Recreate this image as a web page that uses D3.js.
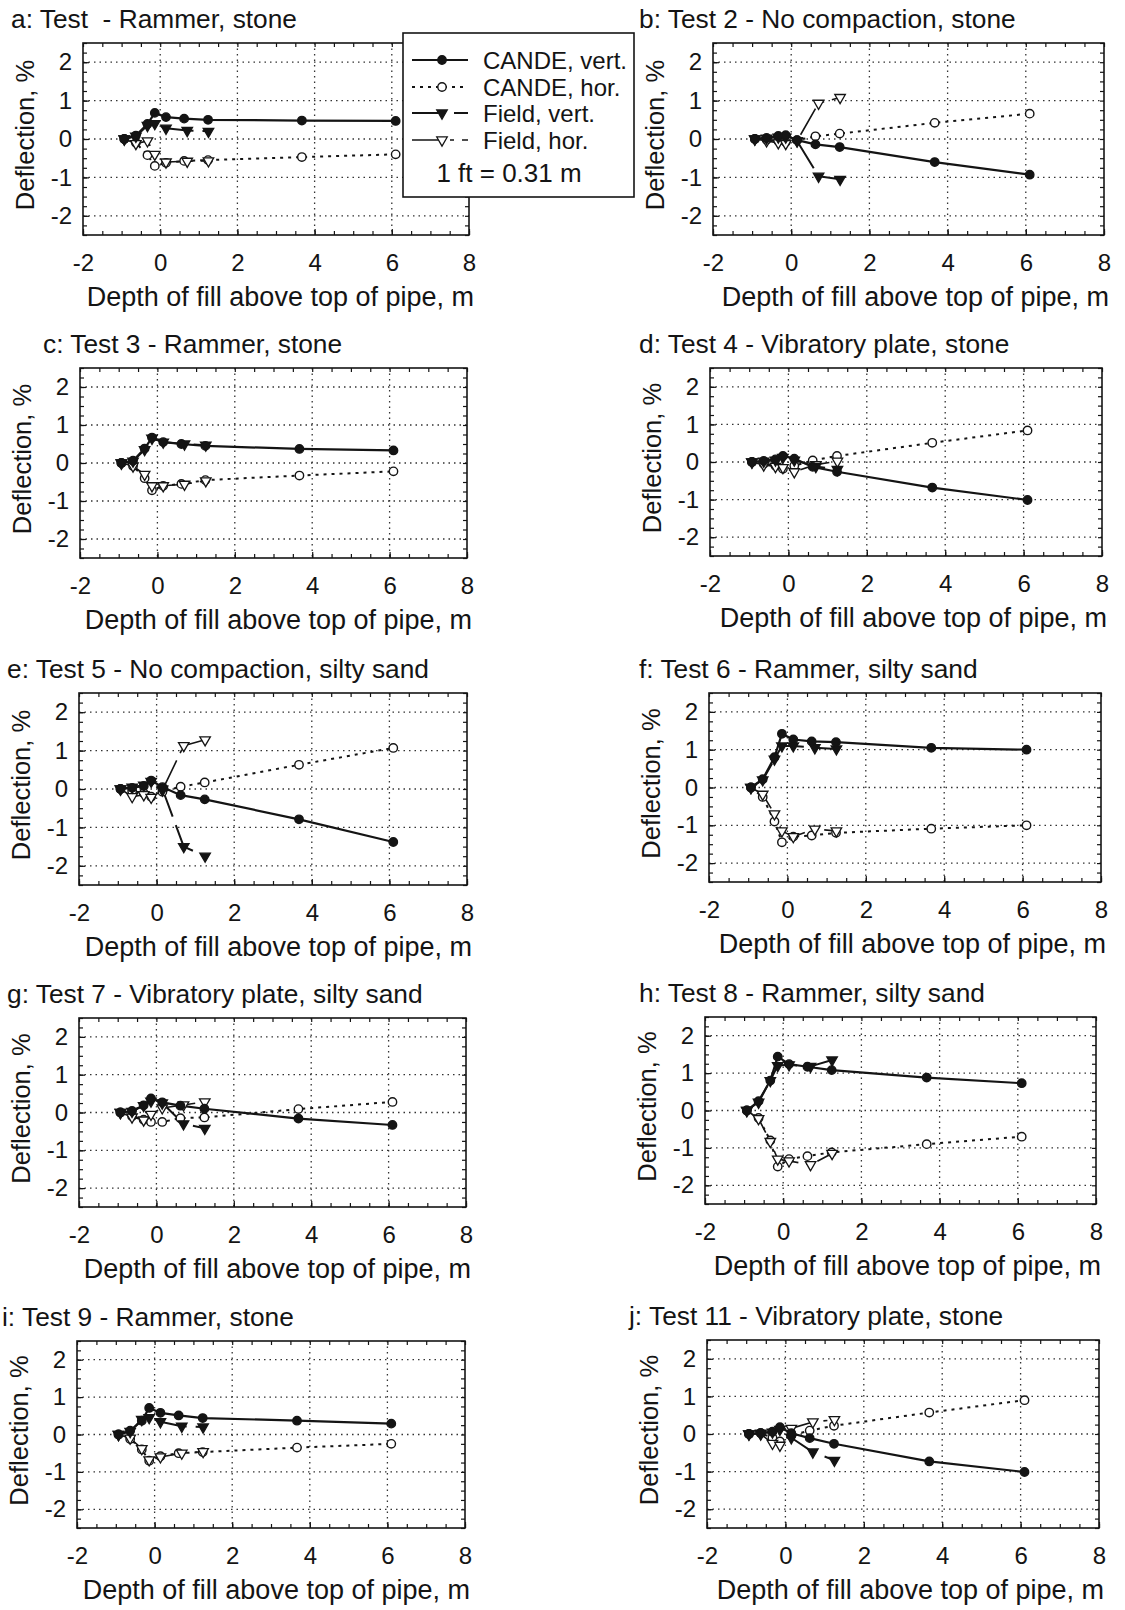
<!DOCTYPE html>
<html><head><meta charset="utf-8">
<script src="https://cdn.jsdelivr.net/npm/d3@7"></script>
<style>
body{margin:0;background:#fff;}
svg{display:block;font-family:"Liberation Sans", Arial, sans-serif;}
</style></head><body>
<svg id="chart" width="1125" height="1610"></svg>
<script>
// ---------------- data ----------------
const depthCande = [-0.93, -0.63, -0.33, -0.14, 0.15, 0.62, 1.24, 3.67, 6.10];
const depthField = [-0.93, -0.63, -0.33, -0.14, 0.15, 0.70, 1.25];
const xTicks = [-2, 0, 2, 4, 6, 8];
const yTicks = [-2, -1, 0, 1, 2];
const panelTitles = [
  "a: Test  - Rammer, stone",
  "b: Test 2 - No compaction, stone",
  "c: Test 3 - Rammer, stone",
  "d: Test 4 - Vibratory plate, stone",
  "e: Test 5 - No compaction, silty sand",
  "f: Test 6 - Rammer, silty sand",
  "g: Test 7 - Vibratory plate, silty sand",
  "h: Test 8 - Rammer, silty sand",
  "i: Test 9 - Rammer, stone",
  "j: Test 11 - Vibratory plate, stone"
];
const candeVert = [
  [0, 0.09, 0.39, 0.68, 0.57, 0.53, 0.50, 0.48, 0.47],
  [0, 0.03, 0.08, 0.10, -0.03, -0.14, -0.21, -0.60, -0.93],
  [0, 0.06, 0.38, 0.67, 0.55, 0.50, 0.45, 0.37, 0.33],
  [0, 0.03, 0.07, 0.16, 0.09, -0.13, -0.26, -0.68, -1.01],
  [0, 0.03, 0.08, 0.22, 0.05, -0.16, -0.27, -0.79, -1.38],
  [0, 0.22, 0.80, 1.42, 1.27, 1.22, 1.20, 1.05, 1.00],
  [0, 0.04, 0.19, 0.37, 0.27, 0.18, 0.10, -0.16, -0.33],
  [0, 0.25, 0.80, 1.44, 1.24, 1.17, 1.08, 0.88, 0.73],
  [0, 0.10, 0.37, 0.71, 0.58, 0.51, 0.44, 0.37, 0.29],
  [0, 0.03, 0.06, 0.18, 0.02, -0.11, -0.26, -0.73, -1.01]
];
const candeHor = [
  [0, -0.10, -0.42, -0.70, -0.62, -0.57, -0.55, -0.47, -0.40],
  [0, -0.02, -0.05, -0.08, -0.03, 0.07, 0.14, 0.42, 0.66],
  [0, -0.08, -0.40, -0.72, -0.60, -0.55, -0.45, -0.33, -0.22],
  [0, -0.05, -0.10, -0.18, -0.10, 0.04, 0.16, 0.51, 0.84],
  [0, -0.05, -0.11, -0.20, -0.07, 0.06, 0.17, 0.63, 1.07],
  [0, -0.25, -0.90, -1.45, -1.30, -1.27, -1.20, -1.09, -1.00],
  [0, -0.10, -0.19, -0.25, -0.25, -0.15, -0.13, 0.09, 0.28],
  [0, -0.20, -0.80, -1.50, -1.30, -1.22, -1.12, -0.90, -0.70],
  [0, -0.12, -0.40, -0.70, -0.58, -0.50, -0.47, -0.35, -0.25],
  [0, 0.02, -0.10, -0.20, -0.04, 0.09, 0.22, 0.57, 0.90]
];
const fieldVert = [
  [0, 0.07, 0.35, 0.40, 0.28, 0.22, 0.20],
  [0, 0.02, 0.05, 0.05, -0.05, -0.97, -1.05],
  [0, 0.05, 0.35, 0.65, 0.55, 0.50, 0.47],
  [0, 0.02, 0.05, 0.12, 0.05, -0.12, -0.20],
  [0, 0.05, 0.10, 0.20, 0.00, -1.50, -1.75],
  [0, 0.20, 0.75, 1.10, 1.10, 1.05, 1.02],
  [0, 0.03, 0.18, 0.30, 0.25, -0.30, -0.42],
  [0, 0.22, 0.80, 1.20, 1.22, 1.18, 1.35],
  [0, 0.08, 0.40, 0.45, 0.34, 0.22, 0.20],
  [0, 0.02, 0.05, 0.12, -0.10, -0.48, -0.70]
];
const fieldHor = [
  [0, -0.12, -0.05, -0.40, -0.60, -0.58, -0.57],
  [0, -0.05, -0.10, -0.12, -0.05, 0.93, 1.08],
  [0, -0.08, -0.30, -0.60, -0.60, -0.56, -0.47],
  [0, -0.08, -0.12, -0.15, -0.26, -0.07, 0.02],
  [0, -0.20, -0.15, -0.22, -0.03, 1.13, 1.28],
  [0, -0.18, -0.70, -1.15, -1.30, -1.10, -1.15],
  [0, -0.12, -0.20, -0.05, 0.12, 0.20, 0.28],
  [0, -0.22, -0.83, -1.30, -1.35, -1.45, -1.15],
  [0, -0.10, -0.38, -0.68, -0.60, -0.50, -0.46],
  [0, 0.00, -0.25, -0.30, 0.15, 0.32, 0.38]
];
const legendLabels = ["CANDE, vert.", "CANDE, hor.", "Field, vert.", "Field, hor."];
const legendNote = "1 ft = 0.31 m";
const xLabel = "Depth of fill above top of pipe, m";
const yLabel = "Deflection, %";

// ---------------- layout ----------------
const layout = [
  {x0:83, x1:469, y0:43, y1:235, tx:11},
  {x0:713, x1:1104, y0:43, y1:235, tx:639},
  {x0:80, x1:467, y0:368, y1:558, tx:43},
  {x0:710, x1:1102, y0:368, y1:556, tx:639},
  {x0:79, x1:467, y0:693, y1:885, tx:7},
  {x0:709, x1:1101, y0:693, y1:882, tx:639},
  {x0:79, x1:466, y0:1018, y1:1207, tx:7},
  {x0:705, x1:1096, y0:1017, y1:1204, tx:639},
  {x0:77, x1:465, y0:1341, y1:1528, tx:2},
  {x0:707, x1:1099, y0:1340, y1:1528, tx:629}
];
const INK = "#141414";
const seriesStyle = [
  {name:"ch", dash:"3,5", width:2, marker:"circle", fill:"#fff"},
  {name:"fh", dash:"30,8,4,8", width:1.6, marker:"tri", fill:"#fff"},
  {name:"fv", dash:"33,9", width:2, marker:"tri", fill:INK},
  {name:"cv", dash:null, width:2.2, marker:"circle", fill:INK}
];

const svg = d3.select("#chart");
svg.append("rect").attr("width",1125).attr("height",1610).attr("fill","#fff");

function drawMarker(g, type, fill, px, py) {
  if (type === "circle") {
    g.append("circle").attr("cx",px).attr("cy",py).attr("r",4.2)
      .attr("fill",fill).attr("stroke",INK).attr("stroke-width",1.4);
  } else {
    g.append("path").attr("d", d3.symbol(d3.symbolTriangle, 48)())
      .attr("transform",`translate(${px},${py}) rotate(180)`)
      .attr("fill",fill).attr("stroke",INK).attr("stroke-width",1.3);
  }
}

layout.forEach((L, i) => {
  const x = d3.scaleLinear().domain([-2, 8]).range([L.x0, L.x1]);
  const y = d3.scaleLinear().domain([-2.5, 2.5]).range([L.y1, L.y0]);
  const g = svg.append("g");

  // grid
  g.selectAll(".gx").data(xTicks.filter(t => t > -2 && t < 8)).enter().append("line")
    .attr("x1", d => x(d)).attr("x2", d => x(d)).attr("y1", L.y0).attr("y2", L.y1)
    .attr("stroke", "#333").attr("stroke-width", 1.3).attr("stroke-dasharray", "1.5,4");
  g.selectAll(".gy").data(yTicks).enter().append("line")
    .attr("y1", d => y(d)).attr("y2", d => y(d)).attr("x1", L.x0).attr("x2", L.x1)
    .attr("stroke", "#333").attr("stroke-width", 1.3).attr("stroke-dasharray", "1.5,4");

  // axes (ticks inward, labels outside)
  const fmt = d => d3.format("d")(d).replace("−", "-");
  const ax = g.append("g").attr("transform", `translate(0,${L.y1})`)
    .call(d3.axisBottom(x).tickValues(xTicks).tickSizeInner(-6).tickSizeOuter(0).tickPadding(19).tickFormat(fmt));
  const ay = g.append("g").attr("transform", `translate(${L.x0},0)`)
    .call(d3.axisLeft(y).tickValues(yTicks).tickSizeInner(-6).tickSizeOuter(0).tickPadding(11).tickFormat(fmt));
  g.append("g").attr("transform", `translate(0,${L.y0})`)
    .call(d3.axisTop(x).tickValues(d3.range(-2, 8.01, 0.5)).tickSizeInner(-4).tickSizeOuter(0).tickFormat(""));
  g.append("g").attr("transform", `translate(${L.x1},0)`)
    .call(d3.axisRight(y).tickValues(d3.range(-2.5, 2.51, 0.25)).tickSizeInner(-4).tickSizeOuter(0).tickFormat(""));
  g.append("g").attr("transform", `translate(0,${L.y1})`)
    .call(d3.axisBottom(x).tickValues(d3.range(-2, 8.01, 0.5)).tickSizeInner(-4).tickSizeOuter(0).tickFormat(""));
  g.append("g").attr("transform", `translate(${L.x0},0)`)
    .call(d3.axisLeft(y).tickValues(d3.range(-2.5, 2.51, 0.25)).tickSizeInner(-4).tickSizeOuter(0).tickFormat(""));
  g.selectAll(".domain").remove();
  g.selectAll(".tick line").attr("stroke", INK).attr("stroke-width", 1.2);
  g.selectAll(".tick text").attr("font-size", 24).attr("fill", INK)
    .attr("font-family", '"Liberation Sans", Arial, sans-serif');

  // frame
  g.append("rect").attr("x", L.x0).attr("y", L.y0).attr("width", L.x1 - L.x0).attr("height", L.y1 - L.y0)
    .attr("fill", "none").attr("stroke", INK).attr("stroke-width", 1.6);

  // series
  const seriesData = {
    cv: {xs: depthCande, ys: candeVert[i]},
    ch: {xs: depthCande, ys: candeHor[i]},
    fv: {xs: depthField, ys: fieldVert[i]},
    fh: {xs: depthField, ys: fieldHor[i]}
  };
  const lineGen = d3.line().x(d => x(d[0])).y(d => y(d[1]));
  seriesStyle.forEach(s => {
    const sd = seriesData[s.name];
    const pts = sd.xs.map((v, k) => [v, sd.ys[k]]);
    const p = g.append("path").attr("d", lineGen(pts)).attr("fill", "none")
      .attr("stroke", INK).attr("stroke-width", s.width).attr("stroke-linejoin", "round");
    if (s.dash) p.attr("stroke-dasharray", s.dash);
  });
  seriesStyle.forEach(s => {
    const sd = seriesData[s.name];
    sd.xs.forEach((v, k) => drawMarker(g, s.marker, s.fill, x(v), y(sd.ys[k])));
  });

  // titles and axis labels
  svg.append("text").attr("x", L.tx).attr("y", L.y0 - 15).attr("font-size", 26.3)
    .attr("fill", INK).style("white-space", "pre").text(panelTitles[i]);
  svg.append("text").attr("x", L.x1 + 5).attr("y", L.y1 + 71).attr("text-anchor", "end")
    .attr("font-size", 27).attr("fill", INK).text(xLabel);
  svg.append("text").attr("transform", `translate(${L.x0 - 49},${(L.y0 + L.y1) / 2 - 4}) rotate(-90)`)
    .attr("text-anchor", "middle").attr("font-size", 25.5).attr("fill", INK).text(yLabel);
});

// legend (in panel a)
const lg = svg.append("g");
lg.append("rect").attr("x", 403).attr("y", 33).attr("width", 231).attr("height", 164)
  .attr("fill", "#fff").attr("stroke", INK).attr("stroke-width", 1.6);
const legendOrder = [3, 0, 2, 1]; // indices into seriesStyle: cv, ch, fv, fh
const legendY = [60, 87, 113, 140];
legendLabels.forEach((lab, k) => {
  const s = seriesStyle[legendOrder[k]];
  const ly = legendY[k];
  const l = lg.append("line").attr("x1", 412).attr("x2", 468).attr("y1", ly).attr("y2", ly)
    .attr("stroke", INK).attr("stroke-width", s.width);
  if (s.dash) l.attr("stroke-dasharray", s.dash);
  drawMarker(lg, s.marker, s.fill, 442, ly);
  lg.append("text").attr("x", 483).attr("y", ly + 8.5).attr("font-size", 24).attr("fill", INK).text(lab);
});
lg.append("text").attr("x", 509).attr("y", 182).attr("text-anchor", "middle")
  .attr("font-size", 26).attr("fill", INK).text(legendNote);
</script>
</body></html>
